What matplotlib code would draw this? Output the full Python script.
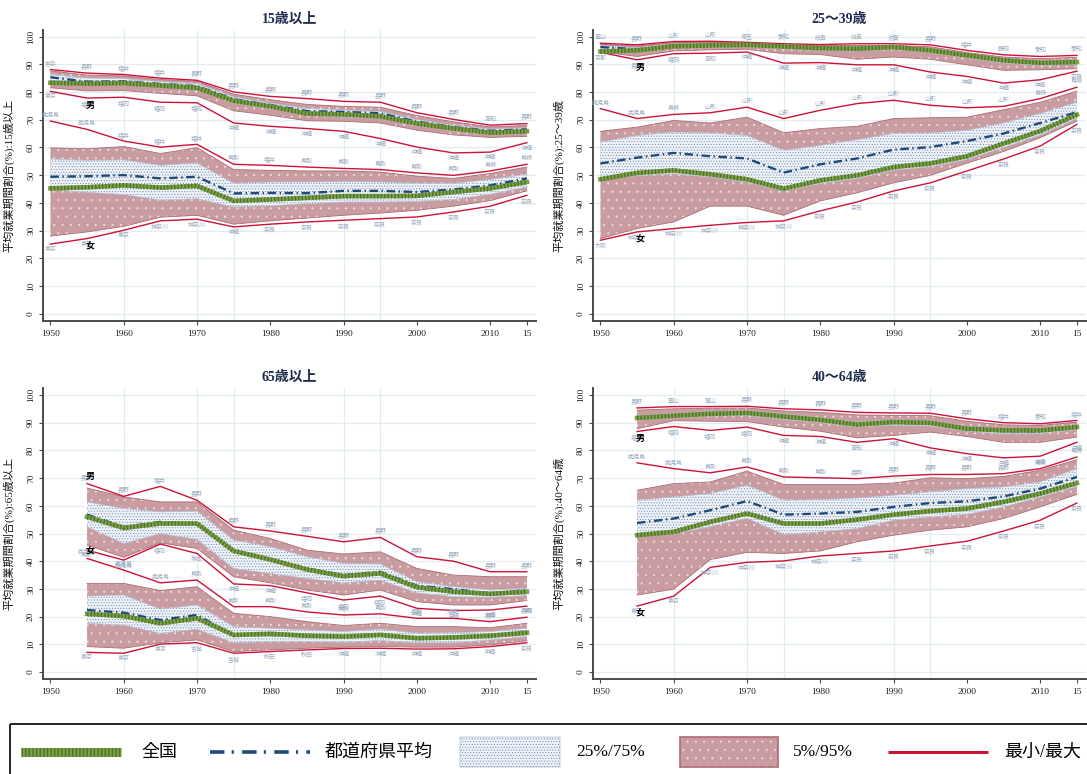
import matplotlib
matplotlib.use("Agg")
import matplotlib.pyplot as plt
from matplotlib.patches import Rectangle
from matplotlib.lines import Line2D

plt.rcParams['hatch.linewidth'] = 0.4

# ---------------- data ----------------
years_a = [1950, 1955, 1960, 1965, 1970, 1975, 1980, 1985, 1990, 1995, 2000, 2005, 2010, 2015]
years_b = [1955, 1960, 1965, 1970, 1975, 1980, 1985, 1990, 1995, 2000, 2005, 2010, 2015]
xtick_years = [1950, 1960, 1970, 1980, 1990, 2000, 2010, 2015]
xtick_labels = ['1950', '1960', '1970', '1980', '1990', '2000', '2010', '15']
grid_years = [1960, 1970, 1975, 1990, 1995]
sex_mark_year = 1955

# 15歳以上
m15_max = [88.1, 86.8, 86.3, 85.0, 84.2, 80.0, 78.4, 77.6, 76.6, 76.3, 72.5, 70.1, 68.0, 68.6]
m15_p95 = [87.6, 86.1, 85.8, 84.5, 83.8, 79.2, 77.2, 75.5, 74.8, 74.5, 71.5, 69.2, 67.4, 67.9]
m15_p75 = [86.3, 85.0, 84.8, 83.7, 83.0, 78.2, 76.0, 74.0, 73.5, 73.0, 70.0, 67.9, 66.6, 67.0]
m15_mean = [85.3, 83.7, 83.8, 82.9, 82.1, 77.4, 75.3, 73.1, 72.8, 72.3, 69.3, 67.3, 66.0, 66.5]
m15_nat = [83.3, 83.0, 83.2, 82.3, 81.5, 76.8, 74.8, 72.2, 71.9, 71.2, 68.6, 66.8, 65.3, 65.8]
m15_p25 = [84.2, 82.4, 82.6, 81.7, 80.8, 76.0, 74.0, 71.6, 71.0, 70.5, 68.0, 66.0, 64.6, 65.2]
m15_p5 = [81.5, 80.4, 80.5, 79.5, 78.6, 73.2, 71.6, 69.6, 69.4, 68.8, 66.2, 64.5, 63.6, 64.0]
m15_min = [80.2, 77.8, 78.1, 76.3, 76.1, 68.8, 67.6, 66.8, 65.8, 63.2, 60.1, 58.0, 58.3, 61.7]
m15_max_pref = ['岩手', '長野', '福井', '福井', '長野', '長野', '長野', '長野', '長野', '長野', '長野', '長野', '高知', '長野']
m15_min_pref = ['東京', '福岡', '福岡', '福岡', '福岡', '沖縄', '沖縄', '沖縄', '沖縄', '沖縄', '沖縄', '沖縄', '沖縄', '沖縄']

f15_max = [69.5, 66.5, 62.3, 60.1, 61.1, 53.9, 53.5, 52.9, 52.4, 52.0, 50.8, 49.9, 51.5, 53.9]
f15_p95 = [59.8, 59.5, 60.3, 57.8, 59.9, 52.0, 51.7, 51.5, 51.5, 51.1, 49.6, 48.8, 50.6, 52.9]
f15_p75 = [55.8, 55.3, 55.5, 53.5, 54.4, 47.0, 47.5, 47.5, 47.6, 47.5, 47.0, 47.0, 48.4, 50.3]
f15_mean = [49.4, 49.6, 50.0, 48.8, 49.4, 43.4, 43.6, 43.5, 44.3, 44.3, 43.9, 44.8, 46.3, 48.8]
f15_nat = [45.2, 45.6, 46.3, 45.5, 46.1, 40.7, 41.2, 41.8, 42.4, 42.4, 42.5, 43.9, 45.2, 47.5]
f15_p25 = [44.8, 43.8, 43.0, 41.0, 41.5, 38.5, 39.0, 39.7, 40.3, 40.3, 40.5, 41.2, 43.1, 45.7]
f15_p5 = [28.0, 29.5, 31.5, 34.8, 35.5, 32.3, 33.5, 34.5, 35.5, 36.3, 37.3, 38.8, 40.8, 44.3]
f15_min = [25.1, 27.1, 30.1, 33.5, 34.1, 31.3, 32.3, 33.1, 33.7, 34.3, 34.9, 36.7, 38.8, 42.7]
f15_max_pref = ['鹿児島', '鹿児島', '福井', '福井', '福井', '鳥取', '福井', '鳥取', '鳥取', '鳥取', '鳥取', '鳥取', '島根', '島根']
f15_min_pref = ['東京', '東京', '東京', '神奈川', '神奈川', '沖縄', '奈良', '奈良', '奈良', '奈良', '奈良', '奈良', '奈良', '奈良']

# 25〜39歳
m25_max = [97.6, 97.0, 98.2, 98.3, 97.9, 97.4, 97.1, 97.4, 97.4, 97.0, 95.0, 93.4, 92.8, 93.2]
m25_p95 = [97.2, 96.6, 97.8, 97.9, 97.6, 97.0, 96.7, 96.8, 96.8, 96.3, 94.2, 92.6, 92.0, 92.5]
m25_p75 = [96.7, 95.9, 97.2, 97.4, 97.3, 96.8, 96.3, 96.2, 96.5, 95.7, 93.8, 92.0, 91.3, 91.6]
m25_mean = [96.2, 95.4, 96.8, 96.9, 97.0, 96.4, 95.9, 95.7, 96.2, 95.2, 93.3, 91.5, 90.6, 90.9]
m25_nat = [94.6, 95.0, 96.5, 96.8, 97.0, 96.4, 95.8, 95.6, 96.2, 95.0, 93.2, 91.4, 90.5, 90.8]
m25_p25 = [95.3, 94.3, 96.0, 96.2, 96.3, 95.6, 95.0, 94.8, 95.4, 94.3, 92.3, 90.5, 89.6, 90.0]
m25_p5 = [94.5, 92.8, 94.8, 95.2, 95.4, 93.8, 93.5, 91.8, 92.6, 91.8, 89.8, 87.8, 88.0, 88.4]
m25_min = [94.3, 91.6, 93.8, 94.0, 94.4, 90.4, 90.6, 89.8, 89.8, 87.2, 85.6, 83.2, 84.4, 87.5]
m25_max_pref = ['富山', '長野', '山形', '山形', '埼玉', '愛知', '岐阜', '岐阜', '滋賀', '長野', '福井', '静岡', '愛知', '愛知']
m25_min_pref = ['京都', '長野', '福岡', '高知', '沖縄', '沖縄', '沖縄', '沖縄', '沖縄', '沖縄', '沖縄', '沖縄', '沖縄', '奈良']

f25_max = [74.0, 70.4, 71.9, 72.5, 74.5, 70.4, 73.4, 75.8, 77.0, 75.2, 74.3, 74.8, 77.6, 81.7]
f25_p95 = [65.8, 67.3, 69.7, 68.8, 70.9, 65.3, 66.8, 67.6, 70.4, 70.7, 70.9, 73.6, 76.3, 80.3]
f25_p75 = [61.9, 64.3, 65.5, 65.2, 64.3, 58.9, 60.7, 62.8, 65.0, 65.2, 66.1, 68.8, 72.2, 76.3]
f25_mean = [54.2, 56.3, 58.0, 56.8, 56.0, 50.9, 53.9, 56.0, 59.2, 60.1, 62.3, 65.0, 68.8, 72.7]
f25_nat = [48.5, 50.8, 51.7, 50.3, 48.5, 45.1, 48.1, 49.9, 52.9, 54.2, 56.8, 61.4, 65.9, 71.8]
f25_p25 = [48.3, 49.8, 50.5, 49.3, 47.5, 44.2, 47.0, 48.8, 51.8, 53.0, 55.6, 60.0, 64.5, 70.5]
f25_p5 = [27.1, 30.7, 33.1, 38.8, 38.8, 35.5, 40.7, 43.6, 47.2, 49.9, 54.3, 58.5, 63.5, 69.5]
f25_min = [26.5, 29.5, 30.7, 31.9, 32.9, 33.5, 37.1, 40.3, 44.3, 47.2, 51.5, 55.8, 60.5, 68.3]
f25_max_pref = ['鹿児島', '鹿児島', '島根', '山形', '山形', '山形', '山形', '山形', '山形', '山形', '山形', '山形', '島根', '島根']
f25_min_pref = ['大阪', '神奈川', '神奈川', '神奈川', '神奈川', '神奈川', '奈良', '奈良', '奈良', '奈良', '奈良', '奈良', '奈良', '奈良']

# 65歳以上
m65_max = [68.0, 63.4, 67.0, 62.0, 52.4, 50.9, 49.0, 47.0, 48.6, 41.6, 40.0, 36.2, 36.2]
m65_p95 = [66.4, 63.2, 61.4, 61.4, 51.2, 48.2, 44.0, 42.6, 43.4, 37.4, 35.0, 34.4, 34.4]
m65_p75 = [61.4, 59.0, 57.8, 58.1, 47.6, 45.2, 41.6, 39.2, 39.0, 32.6, 30.8, 29.6, 30.2]
m65_mean = [56.8, 52.4, 54.2, 53.6, 43.4, 40.6, 37.4, 35.0, 36.2, 31.2, 29.9, 28.4, 29.6]
m65_nat = [56.0, 52.0, 53.6, 53.6, 43.7, 40.6, 37.0, 34.6, 35.6, 30.6, 29.0, 28.2, 29.0]
m65_p25 = [52.4, 46.4, 50.0, 47.9, 37.4, 35.6, 33.8, 32.2, 33.2, 28.6, 27.2, 27.0, 27.6]
m65_p5 = [45.8, 41.4, 46.6, 44.6, 34.4, 32.2, 29.6, 27.8, 29.6, 25.4, 24.2, 24.2, 25.8]
m65_min = [44.0, 40.4, 46.2, 42.8, 31.8, 31.2, 28.6, 26.0, 27.4, 23.0, 22.2, 22.4, 23.8]
m65_max_pref = ['長野', '長野', '福井', '長野', '長野', '長野', '長野', '長野', '長野', '長野', '長野', '長野', '長野']
m65_min_pref = ['鳥取', '鹿児島', '福岡', '熊本', '沖縄', '沖縄', '福岡', '福岡', '福岡', '沖縄', '沖縄', '沖縄', '沖縄']

f65_max = [41.0, 36.8, 32.2, 33.2, 23.6, 23.6, 21.7, 20.6, 21.0, 19.4, 19.4, 18.2, 19.8]
f65_p95 = [32.0, 32.0, 29.4, 30.8, 21.2, 20.0, 18.2, 16.8, 17.6, 16.4, 16.4, 16.0, 17.6]
f65_p75 = [27.4, 27.8, 22.7, 24.2, 16.4, 15.8, 15.2, 14.6, 15.5, 14.0, 14.2, 14.6, 15.8]
f65_mean = [22.4, 21.4, 18.8, 20.6, 13.4, 13.4, 13.2, 12.8, 13.4, 12.2, 12.6, 13.1, 14.2]
f65_nat = [21.0, 20.2, 17.6, 19.4, 13.4, 13.8, 13.1, 12.8, 13.4, 12.2, 12.5, 13.1, 14.2]
f65_p25 = [17.6, 17.0, 14.0, 15.5, 10.6, 11.0, 11.0, 10.8, 11.4, 10.6, 10.6, 11.6, 12.8]
f65_p5 = [9.2, 8.6, 10.6, 11.6, 7.4, 8.0, 8.6, 9.0, 9.2, 9.0, 9.0, 9.8, 11.3]
f65_min = [7.1, 6.8, 10.1, 10.6, 6.8, 7.4, 8.0, 8.5, 8.6, 8.3, 8.4, 9.2, 10.6]
f65_max_pref = ['鹿児島', '鹿児島', '鹿児島', '鳥取', '鳥取', '鳥取', '鳥取', '鳥取', '鳥取', '長野', '長野', '長野', '長野']
f65_min_pref = ['東京', '東京', '東京', '宮城', '宮城', '秋田', '秋田', '沖縄', '沖縄', '沖縄', '沖縄', '沖縄', '奈良']

# 40〜64歳
m40_max = [95.3, 95.8, 95.8, 95.9, 95.0, 94.6, 93.7, 93.5, 93.4, 91.4, 90.0, 89.6, 90.8]
m40_p95 = [94.5, 95.0, 95.2, 95.3, 94.2, 93.7, 92.8, 92.6, 92.5, 90.5, 89.2, 89.0, 90.2]
m40_p75 = [92.5, 93.3, 94.0, 94.3, 93.0, 91.8, 90.2, 91.0, 90.7, 88.6, 87.9, 87.9, 89.2]
m40_mean = [91.8, 92.6, 93.3, 93.6, 92.3, 91.1, 89.4, 90.2, 89.9, 87.7, 86.9, 86.8, 88.3]
m40_nat = [91.7, 92.5, 93.2, 93.5, 92.2, 91.0, 89.3, 90.2, 89.9, 87.8, 87.2, 87.2, 88.4]
m40_p25 = [90.8, 91.8, 92.4, 92.6, 91.2, 90.0, 88.4, 89.1, 88.8, 86.9, 86.0, 86.1, 87.5]
m40_p5 = [87.8, 90.7, 90.5, 90.4, 88.4, 86.9, 84.5, 85.4, 86.6, 85.0, 82.9, 82.9, 84.8]
m40_min = [86.8, 88.6, 87.2, 88.4, 85.4, 85.0, 82.9, 84.2, 80.9, 78.8, 77.3, 77.9, 82.9]
m40_max_pref = ['長野', '富山', '富山', '長野', '長野', '長野', '長野', '長野', '長野', '長野', '福井', '愛知', '福井']
m40_min_pref = ['福岡', '福岡', '福岡', '福岡', '沖縄', '沖縄', '高知', '沖縄', '沖縄', '沖縄', '沖縄', '沖縄', '沖縄']

f40_max = [75.5, 73.4, 71.9, 74.0, 70.4, 70.1, 69.8, 70.7, 71.3, 71.3, 71.6, 73.4, 77.6]
f40_p95 = [65.6, 68.0, 68.6, 72.5, 67.7, 67.7, 67.7, 68.2, 70.1, 69.8, 70.6, 72.8, 76.6]
f40_p75 = [62.0, 63.2, 64.4, 67.4, 62.0, 62.2, 62.8, 63.8, 65.0, 66.2, 66.8, 68.6, 73.4]
f40_mean = [53.8, 55.4, 58.4, 61.7, 56.8, 57.2, 57.8, 59.6, 61.0, 61.6, 63.4, 66.2, 70.4]
f40_nat = [49.4, 50.6, 54.2, 57.2, 53.6, 53.6, 55.0, 56.8, 58.1, 59.0, 61.4, 64.4, 68.2]
f40_p25 = [49.0, 50.0, 52.5, 55.5, 49.7, 50.6, 51.8, 54.8, 56.0, 56.9, 59.6, 63.2, 67.0]
f40_p5 = [27.8, 29.9, 40.6, 43.2, 42.8, 43.7, 47.0, 49.4, 51.2, 52.4, 55.4, 59.6, 64.1]
f40_min = [23.8, 27.4, 37.8, 39.6, 40.1, 41.9, 42.8, 43.7, 45.5, 47.2, 50.9, 54.8, 61.0]
f40_max_pref = ['鹿児島', '鹿児島', '鳥取', '鳥取', '鳥取', '鳥取', '長野', '長野', '長野', '長野', '長野', '島根', '島根']
f40_min_pref = ['東京', '東京', '神奈川', '神奈川', '神奈川', '神奈川', '奈良', '奈良', '奈良', '奈良', '奈良', '奈良', '奈良']

panel_titles = ['15歳以上', '25〜39歳', '65歳以上', '40〜64歳']
ylabel_texts = ['平均就業期間割合(%):15歳以上', '平均就業期間割合(%):25〜39歳',
                '平均就業期間割合(%):65歳以上', '平均就業期間割合(%):40〜64歳']
legend_labels = ['全国', '都道府県平均', '25%/75%', '5%/95%', '最小/最大']

# ---------------- style ----------------
SERIF_CJK = ['Liberation Serif', 'Noto Sans CJK JP']
CJK = ['Noto Sans CJK JP', 'DejaVu Sans']
PINK = '#c99ca1'
PINK_DOT = (1, 1, 1, 0.55)
PINK_EDGE = '#ad6b73'
IQR_FACE = '#eef2f7'
IQR_DOT = '#6f8ab2'
IQR_EDGE = '#b3c4d8'
RED = '#cc1238'
NAVY = '#1d4a78'
GREEN = '#7c9f48'
GREEN_DARK = '#4b7426'
GRID = '#e3edef'
AXIS = '#4a4a4a'
TITLE_C = '#1e2b4d'
PREF_C = '#9aabc0'
MEAN_DASH = (3.6, 1.5, 0.6, 1.5)


def draw_group(ax, yrs, mx, p95, p75, mean, nat, p25, p5, mn, pmax, pmin):
    # 5%-95% band
    ax.fill_between(yrs, p5, p95, facecolor=PINK, edgecolor=PINK_DOT, hatch='..',
                    linewidth=0, zorder=2)
    ax.plot(yrs, p95, color=PINK_EDGE, lw=0.6, zorder=2.2)
    ax.plot(yrs, p5, color=PINK_EDGE, lw=0.6, zorder=2.2)
    # 25%-75% band
    ax.fill_between(yrs, p25, p75, facecolor=IQR_FACE, edgecolor=IQR_DOT, hatch='......',
                    linewidth=0, zorder=3)
    ax.plot(yrs, p75, color=IQR_EDGE, lw=0.5, zorder=3.2)
    ax.plot(yrs, p25, color=IQR_EDGE, lw=0.5, zorder=3.2)
    # min / max
    ax.plot(yrs, mx, color=RED, lw=1.0, zorder=4)
    ax.plot(yrs, mn, color=RED, lw=1.0, zorder=4)
    # prefecture mean
    ax.plot(yrs, mean, color=NAVY, lw=1.7, dashes=MEAN_DASH, zorder=5)
    # national value
    ax.plot(yrs, nat, color=GREEN, lw=3.3, zorder=6)
    ax.plot(yrs, nat, color=GREEN_DARK, lw=3.3, dashes=(0.3, 0.45), zorder=6.1)
    # prefecture names at extremes
    for x, y, t in zip(yrs, mx, pmax):
        ax.annotate(t, (x, y), xytext=(0, 2.2), textcoords='offset points',
                    ha='center', va='bottom', fontsize=4.3, color=PREF_C, family=CJK, zorder=7)
    for x, y, t in zip(yrs, mn, pmin):
        ax.annotate(t, (x, y), xytext=(0, -2.2), textcoords='offset points',
                    ha='center', va='top', fontsize=4.3, color=PREF_C, family=CJK, zorder=7)


def sex_mark(ax, yrs, mx, mn, text, anchor):
    i = yrs.index(sex_mark_year)
    if anchor == 'max':
        ax.annotate(text, (yrs[i], mx[i]), xytext=(2.2, 2.0), textcoords='offset points',
                    ha='center', va='bottom', fontsize=6.5, fontweight='bold',
                    color='black', family=CJK, zorder=8)
    else:
        ax.annotate(text, (yrs[i], mn[i]), xytext=(2.2, -2.0), textcoords='offset points',
                    ha='center', va='top', fontsize=6.5, fontweight='bold',
                    color='black', family=CJK, zorder=8)


def setup_axes(ax, title, ylabel):
    ax.set_xlim(1948.95, 2016.2)
    ax.set_ylim(-2.5, 102.5)
    for v in range(0, 101, 10):
        ax.axhline(v, color=GRID, lw=0.9, zorder=0.5)
    for g in grid_years:
        ax.axvline(g, color=GRID, lw=0.9, zorder=0.5)
    ax.set_xticks(xtick_years)
    ax.set_xticklabels(xtick_labels, family=SERIF_CJK, fontsize=6.8)
    ax.set_yticks(list(range(0, 101, 10)))
    ax.set_yticklabels([str(v) for v in range(0, 101, 10)], family=SERIF_CJK,
                       fontsize=6.8, rotation=90, va='center')
    for s in ['top', 'right']:
        ax.spines[s].set_visible(False)
    for s in ['left', 'bottom']:
        ax.spines[s].set_color(AXIS)
        ax.spines[s].set_linewidth(1.4)
    ax.tick_params(axis='both', direction='out', length=3.0, width=0.8, color=AXIS,
                   labelcolor='#222222')
    ax.tick_params(axis='y', pad=2.5)
    ax.tick_params(axis='x', pad=3.5)
    ax.set_title(title, family=SERIF_CJK, fontsize=10, color=TITLE_C, pad=5,
                 fontweight='bold')
    ax.set_ylabel(ylabel, family=SERIF_CJK, fontsize=8, color='#111111')
    ax.yaxis.set_label_coords(-0.057, 0.5)


W, H = 1087, 774
fig = plt.figure(figsize=(W / 100, H / 100), dpi=100)

left_x, right_x = 42.7 / W, 592.7 / W
ax_w = 493.0 / W
top_b, bot_b = 1 - 320.6 / H, 1 - 679.0 / H
ax_h = 291.0 / H

axes = [fig.add_axes([left_x, top_b, ax_w, ax_h]),
        fig.add_axes([right_x, top_b, ax_w, ax_h]),
        fig.add_axes([left_x, bot_b, ax_w, ax_h]),
        fig.add_axes([right_x, bot_b, ax_w, ax_h])]

panels = [
    (years_a, (m15_max, m15_p95, m15_p75, m15_mean, m15_nat, m15_p25, m15_p5, m15_min, m15_max_pref, m15_min_pref),
     (f15_max, f15_p95, f15_p75, f15_mean, f15_nat, f15_p25, f15_p5, f15_min, f15_max_pref, f15_min_pref), 'min'),
    (years_a, (m25_max, m25_p95, m25_p75, m25_mean, m25_nat, m25_p25, m25_p5, m25_min, m25_max_pref, m25_min_pref),
     (f25_max, f25_p95, f25_p75, f25_mean, f25_nat, f25_p25, f25_p5, f25_min, f25_max_pref, f25_min_pref), 'min'),
    (years_b, (m65_max, m65_p95, m65_p75, m65_mean, m65_nat, m65_p25, m65_p5, m65_min, m65_max_pref, m65_min_pref),
     (f65_max, f65_p95, f65_p75, f65_mean, f65_nat, f65_p25, f65_p5, f65_min, f65_max_pref, f65_min_pref), 'max'),
    (years_b, (m40_max, m40_p95, m40_p75, m40_mean, m40_nat, m40_p25, m40_p5, m40_min, m40_max_pref, m40_min_pref),
     (f40_max, f40_p95, f40_p75, f40_mean, f40_nat, f40_p25, f40_p5, f40_min, f40_max_pref, f40_min_pref), 'min'),
]

for ax, title, ylab, (yrs, male, female, anchor) in zip(axes, panel_titles, ylabel_texts, panels):
    setup_axes(ax, title, ylab)
    for grp, mark in ((male, '男'), (female, '女')):
        draw_group(ax, yrs, *grp)
        sex_mark(ax, yrs, grp[0], grp[7], mark, anchor)

# ---------------- legend strip ----------------
lax = fig.add_axes([0, 0, 1, 1])
lax.set_xlim(0, W)
lax.set_ylim(H, 0)
lax.axis('off')
ly = 752
lax.add_patch(Rectangle((10, 724), 1100, 60, facecolor='none', edgecolor='#111111',
                        lw=1.3, clip_on=False))
lax.add_line(Line2D([21, 121], [ly, ly], color=GREEN, lw=6.5, solid_capstyle='butt'))
lax.add_line(Line2D([21, 121], [ly, ly], color=GREEN_DARK, lw=6.5, dashes=(0.15, 0.25),
                    dash_capstyle='butt'))
lax.text(141, ly, legend_labels[0], family=CJK, fontsize=13, va='center', ha='left')
lax.add_line(Line2D([210, 310], [ly, ly], color=NAVY, lw=2.6, dashes=(4, 2, 0.6, 2.3),
                    dash_capstyle='butt'))
lax.text(325, ly, legend_labels[1], family=CJK, fontsize=13, va='center', ha='left')
lax.add_patch(Rectangle((460, 737), 100, 30, facecolor=IQR_FACE, edgecolor=IQR_DOT,
                        hatch='......', lw=0.3))
lax.text(576, ly, legend_labels[2], family=SERIF_CJK, fontsize=12.5, va='center', ha='left')
lax.add_patch(Rectangle((680, 737), 98, 30, facecolor=PINK, edgecolor=PINK_DOT, hatch='..', lw=0))
lax.add_patch(Rectangle((680, 737), 98, 30, facecolor='none', edgecolor=PINK_EDGE, lw=1.2))
lax.text(793, ly, legend_labels[3], family=SERIF_CJK, fontsize=12.5, va='center', ha='left')
lax.add_line(Line2D([888, 988], [ly, ly], color=RED, lw=2.2, solid_capstyle='butt'))
lax.text(1004, ly, legend_labels[4], family=SERIF_CJK, fontsize=13, va='center', ha='left')

fig.savefig('out.png', dpi=100)
